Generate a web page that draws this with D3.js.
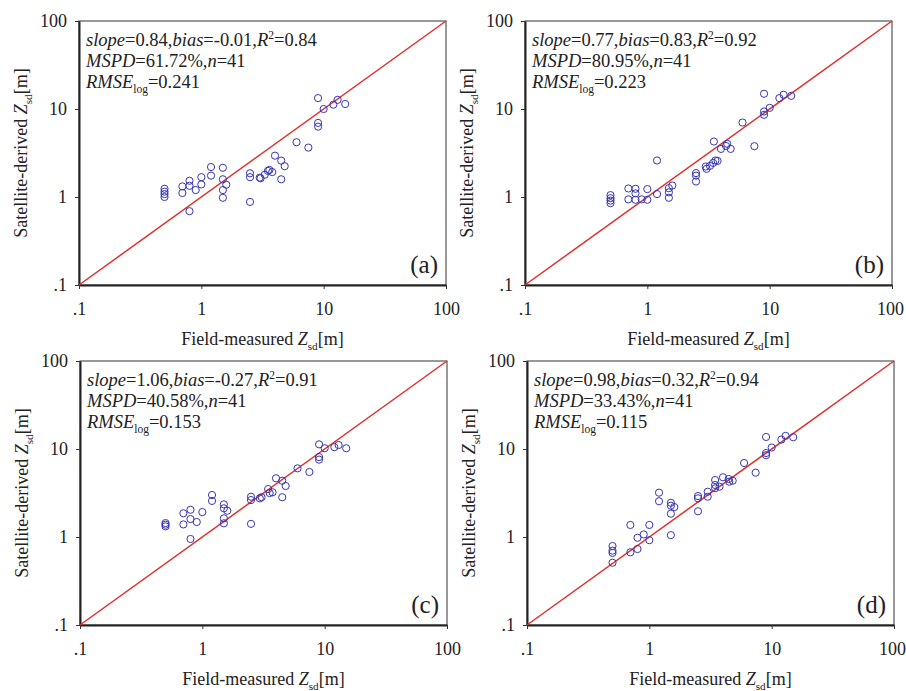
<!DOCTYPE html>
<html>
<head>
<meta charset="utf-8">
<script src="https://cdn.jsdelivr.net/npm/d3@7"></script>
<style>
  body { margin: 0; background: #fff; }
  svg { display: block; font-family: 'Liberation Serif', 'Times New Roman', serif; }
  .tick text { font-size: 18px; fill: #222; font-family: 'Liberation Serif', 'Times New Roman', serif; }
</style>
</head>
<body>
<svg id="chart" width="906" height="691"></svg>
<script>
'use strict';

// Data: [field-measured, satellite-derived] in metres
const pointsA = [
  [0.5, 1.24], [0.5, 1.15], [0.5, 1.08], [0.5, 1.0],
  [0.7, 1.32], [0.7, 1.11],
  [0.8, 1.53], [0.8, 1.34], [0.8, 0.69],
  [0.9, 1.2],
  [1.0, 1.68], [1.0, 1.39],
  [1.2, 2.19], [1.2, 1.75],
  [1.5, 2.15], [1.5, 1.59], [1.5, 1.2], [1.5, 0.98], [1.6, 1.38],
  [2.5, 1.86], [2.5, 1.68], [2.5, 0.88],
  [3.0, 1.66], [3.05, 1.63], [3.3, 1.79], [3.5, 1.98], [3.6, 2.03], [3.8, 1.92],
  [4.0, 2.95], [4.5, 2.59], [4.5, 1.59], [4.8, 2.24],
  [6.0, 4.19], [7.5, 3.64],
  [9.0, 13.3], [9.0, 6.95], [9.0, 6.3],
  [10, 10], [12, 11.2], [13, 12.7], [15, 11.4]
];

const pointsB = [
  [0.5, 1.05], [0.5, 0.97], [0.5, 0.91], [0.5, 0.85],
  [0.7, 1.25], [0.7, 0.94],
  [0.8, 1.24], [0.8, 1.1], [0.8, 0.93],
  [0.9, 0.94],
  [1.0, 1.23], [1.0, 0.93],
  [1.2, 2.6], [1.2, 1.08],
  [1.5, 1.26], [1.5, 1.13], [1.5, 0.98], [1.6, 1.35],
  [2.5, 1.87], [2.5, 1.75], [2.5, 1.5],
  [3.0, 2.22], [3.05, 2.09], [3.25, 2.26], [3.45, 2.44], [3.6, 2.6], [3.75, 2.57],
  [3.5, 4.27], [4.0, 3.52], [4.5, 4.02], [4.4, 3.8], [4.8, 3.52],
  [6.0, 7.02], [7.5, 3.78],
  [9.0, 14.9], [9.0, 9.37], [9.0, 8.59],
  [10, 10.3], [12, 13.3], [13, 14.5], [15, 14.1]
];

const pointsC = [
  [0.5, 1.44], [0.5, 1.38], [0.5, 1.32],
  [0.7, 1.86], [0.7, 1.39],
  [0.8, 2.04], [0.8, 1.6], [0.8, 0.95],
  [0.9, 1.48], [1.0, 1.92],
  [1.2, 3.0], [1.2, 2.57],
  [1.5, 2.35], [1.5, 2.12], [1.5, 1.63], [1.5, 1.43], [1.6, 1.99],
  [2.5, 2.87], [2.5, 2.63], [2.5, 1.41],
  [2.95, 2.75], [3.05, 2.83], [3.45, 3.51], [3.55, 3.16], [3.75, 3.22],
  [4.0, 4.65], [4.5, 4.36], [4.8, 3.8], [4.5, 2.83],
  [6.0, 6.03], [7.5, 5.48],
  [9.0, 11.3], [9.0, 8.1], [9.0, 7.57],
  [10, 10.2], [12, 10.5], [13, 11.1], [15, 10.2]
];

const pointsD = [
  [0.5, 0.79], [0.5, 0.7], [0.5, 0.66], [0.5, 0.51],
  [0.7, 1.37], [0.7, 0.67],
  [0.8, 0.98], [0.8, 0.73],
  [0.9, 1.07],
  [1.0, 1.37], [1.0, 0.92],
  [1.2, 3.19], [1.2, 2.55],
  [1.5, 2.45], [1.5, 2.27], [1.6, 2.19], [1.5, 1.84], [1.5, 1.05],
  [2.5, 2.92], [2.5, 2.75], [2.5, 1.96],
  [3.0, 3.27], [3.0, 2.87], [3.45, 4.44], [3.45, 3.9], [3.45, 3.58], [3.75, 3.73],
  [4.0, 4.77], [4.45, 4.56], [4.5, 4.25], [4.8, 4.36],
  [5.95, 6.93], [7.4, 5.38],
  [9.0, 13.7], [9.0, 9.0], [9.0, 8.5],
  [10, 10.4], [12, 12.8], [13, 14.1], [15, 13.6]
];

const slopes = ['0.84', '0.77', '1.06', '0.98'];
const biases = ['-0.01', '0.83', '-0.27', '0.32'];
const rSquared = ['0.84', '0.92', '0.91', '0.94'];
const mspd = ['61.72%', '80.95%', '40.58%', '33.43%'];
const counts = ['41', '41', '41', '41'];
const rmseLog = ['0.241', '0.223', '0.153', '0.115'];

const PANEL_LABELS = ['(a)', '(b)', '(c)', '(d)'];
const TICK_VALUES = [0.1, 1, 10, 100];
const TICK_LABELS = ['.1', '1', '10', '100'];
const DOMAIN = [0.1, 100];

// Layout
const PANEL_ORIGINS = [[79, 21], [525, 21], [80, 361], [527, 361]];
const PLOT_WIDTH = 367;
const PLOT_HEIGHT = 264;

const svg = d3.select('#chart');

svg.append('rect')
  .attr('width', 906)
  .attr('height', 691)
  .attr('fill', '#fff');

// Writes runs of [text, kind] into a text element; kind is i, sub, sup or null
function writeRuns (text, runs) {
  let shift = 0;
  runs.forEach(([str, kind]) => {
    let target = kind === 'sub' ? 5 : kind === 'sup' ? -7 : 0;
    text.append('tspan')
      .attr('dy', target - shift)
      .attr('font-style', kind === 'i' ? 'italic' : null)
      .attr('font-size', (kind === 'sub' || kind === 'sup') ? '0.62em' : null)
      .text(str);
    shift = target;
  });
}

function drawPanel (points, index) {
  let [left, top] = PANEL_ORIGINS[index];

  let x = d3.scaleLog().domain(DOMAIN).range([0, PLOT_WIDTH]);
  let y = d3.scaleLog().domain(DOMAIN).range([PLOT_HEIGHT, 0]);

  let g = svg.append('g')
    .attr('class', 'panel')
    .attr('transform', 'translate(' + left + ',' + top + ')');

  // Frame (top and right are thin)
  g.append('rect')
    .attr('width', PLOT_WIDTH)
    .attr('height', PLOT_HEIGHT)
    .attr('fill', 'none')
    .attr('stroke', '#333')
    .attr('stroke-width', 1);

  let xAxis = d3.axisBottom(x)
    .tickValues(TICK_VALUES)
    .tickFormat((d, i) => TICK_LABELS[i])
    .tickSizeInner(4)
    .tickSizeOuter(0)
    .tickPadding(13);

  let yAxis = d3.axisLeft(y)
    .tickValues(TICK_VALUES)
    .tickFormat((d, i) => TICK_LABELS[i])
    .tickSizeInner(4)
    .tickSizeOuter(0)
    .tickPadding(8);

  g.append('g')
    .attr('transform', 'translate(0,' + PLOT_HEIGHT + ')')
    .call(xAxis)
    .call(sel => sel.select('.domain').attr('stroke', '#222').attr('stroke-width', 2))
    .call(sel => sel.selectAll('.tick line').attr('stroke', '#333'))
    // keep the last label inside the page on the right-hand column
    .call(sel => sel.selectAll('.tick text')
      .attr('dx', (d, i) => (left > 400 && i === TICK_VALUES.length - 1) ? -2 : null));

  g.append('g')
    .call(yAxis)
    .call(sel => sel.select('.domain').attr('stroke', '#222').attr('stroke-width', 2))
    .call(sel => sel.selectAll('.tick line').attr('stroke', '#333'));

  // 1:1 line
  g.append('line')
    .attr('x1', x(DOMAIN[0]))
    .attr('y1', y(DOMAIN[0]))
    .attr('x2', x(DOMAIN[1]))
    .attr('y2', y(DOMAIN[1]))
    .attr('stroke', '#e0302c')
    .attr('stroke-width', 1.5);

  g.append('g')
    .attr('class', 'points')
    .selectAll('circle')
    .data(points)
    .enter()
    .append('circle')
      .attr('cx', d => x(d[0]))
      .attr('cy', d => y(d[1]))
      .attr('r', 3.6)
      .attr('fill', 'none')
      .attr('stroke', '#3636b4')
      .attr('stroke-width', 1);

  // Statistics
  let stats = g.append('g')
    .attr('font-size', 18.5)
    .attr('fill', '#222');

  writeRuns(stats.append('text').attr('x', 7).attr('y', 25), [
    ['slope', 'i'], ['=' + slopes[index] + ',', null],
    ['bias', 'i'], ['=' + biases[index] + ',', null],
    ['R', 'i'], ['2', 'sup'], ['=' + rSquared[index], null]
  ]);

  writeRuns(stats.append('text').attr('x', 7).attr('y', 46), [
    ['MSPD', 'i'], ['=' + mspd[index] + ',', null],
    ['n', 'i'], ['=' + counts[index], null]
  ]);

  writeRuns(stats.append('text').attr('x', 7).attr('y', 67), [
    ['RMSE', 'i'], ['log', 'sub'], ['=' + rmseLog[index], null]
  ]);

  g.append('text')
    .attr('x', PLOT_WIDTH - 8)
    .attr('y', PLOT_HEIGHT - 12)
    .attr('text-anchor', 'end')
    .attr('font-size', 25)
    .attr('fill', '#222')
    .text(PANEL_LABELS[index]);

  // Axis titles
  writeRuns(g.append('text')
    .attr('x', PLOT_WIDTH / 2)
    .attr('y', PLOT_HEIGHT + 60)
    .attr('text-anchor', 'middle')
    .attr('font-size', 18)
    .attr('fill', '#222'), [
    ['Field-measured ', null], ['Z', 'i'], ['sd', 'sub'], ['[m]', null]
  ]);

  writeRuns(g.append('text')
    .attr('transform', 'translate(-52,' + (PLOT_HEIGHT / 2) + ') rotate(-90)')
    .attr('text-anchor', 'middle')
    .attr('font-size', 18)
    .attr('fill', '#222'), [
    ['Satellite-derived ', null], ['Z', 'i'], ['sd', 'sub'], ['[m]', null]
  ]);
}

[pointsA, pointsB, pointsC, pointsD].forEach(drawPanel);
</script>
</body>
</html>
